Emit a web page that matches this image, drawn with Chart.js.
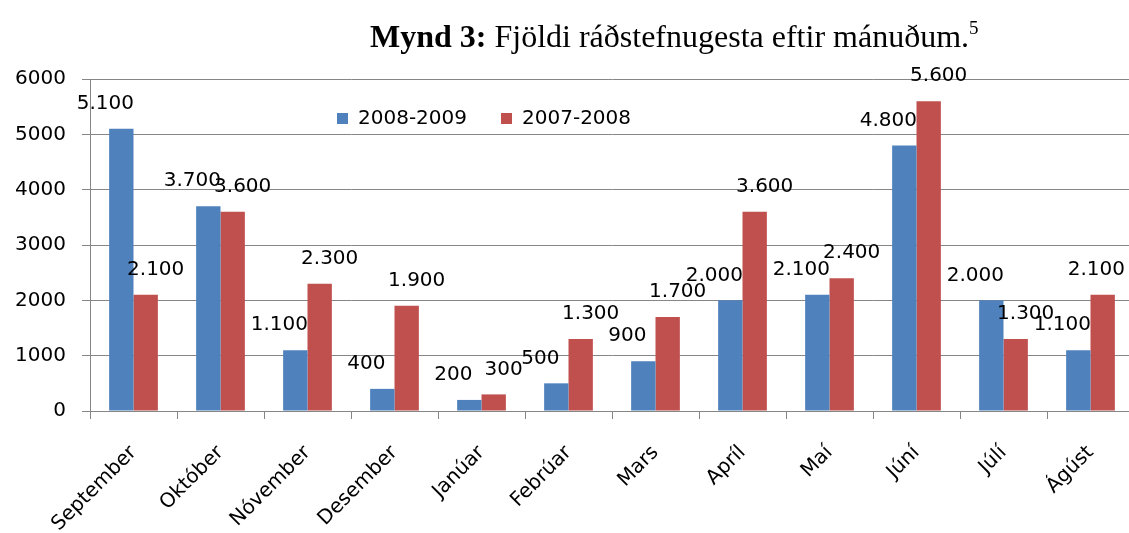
<!DOCTYPE html>
<html>
<head>
<meta charset="utf-8">
<script src="https://cdn.jsdelivr.net/npm/chart.js@4"></script>
<style>
  html, body { margin:0; padding:0; background:#fff; width:1129px; height:533px; overflow:hidden; }
  #wrap { position:absolute; left:0; top:0; width:1129px; height:533px; overflow:hidden; }
  #title { position:absolute; left:370px; top:18px; font-family:"Liberation Serif","Times New Roman",serif; font-size:32px; color:#000; white-space:nowrap; }
  #title sup { font-size:19px; position:relative; top:-1px; vertical-align:top; }
</style>
</head>
<body>
<div id="wrap"><canvas id="c" width="1150" height="533" style="width:1150px;height:533px"></canvas></div>
<div id="title"><b>Mynd 3:</b> Fjöldi ráðstefnugesta eftir mánuðum.<sup>5</sup></div>
<script>
const categories = ["September","Október","Nóvember","Desember","Janúar","Febrúar","Mars","Apríl","Maí","Júní","Júlí","Ágúst"];
const seriesNames = ["2008-2009","2007-2008"];
const series2008_2009 = [5100,3700,1100,400,200,500,900,2000,2100,4800,2000,1100];
const series2007_2008 = [2100,3600,2300,1900,300,1300,1700,3600,2400,5600,1300,2100];
const yTickValues = [0,1000,2000,3000,4000,5000,6000];

const FONT = "'DejaVu Sans', sans-serif";
const VISIBLE_WIDTH = 1129;
const fmt = v => String(v).replace(/\B(?=(\d{3})+(?!\d))/g, ".");

const labelPlugin = {
  id: 'valueLabels',
  afterDatasetsDraw(chart) {
    const ctx = chart.ctx;
    ctx.save();
    ctx.font = "20px " + FONT;
    ctx.fillStyle = "#000";
    ctx.textAlign = "center";
    ctx.textBaseline = "middle";
    chart.data.datasets.forEach((ds, di) => {
      const meta = chart.getDatasetMeta(di);
      const dx = di === 0 ? -16 : 10;
      meta.data.forEach((bar, i) => {
        const txt = fmt(ds.data[i]);
        const w = ctx.measureText(txt).width;
        const x = Math.min(bar.x + dx, VISIBLE_WIDTH - 4 - w / 2);
        ctx.fillText(txt, x, bar.y - 25);
      });
    });
    ctx.restore();
  }
};

const legendPlugin = {
  id: 'customLegend',
  afterDraw(chart) {
    const ctx = chart.ctx;
    ctx.save();
    ctx.font = "20px " + FONT;
    ctx.textBaseline = "middle";
    ctx.textAlign = "left";
    let x = 337;
    const y = 119;
    chart.data.datasets.forEach(ds => {
      ctx.fillStyle = ds.backgroundColor;
      ctx.fillRect(x, y - 6, 11, 11);
      ctx.fillStyle = "#000";
      ctx.fillText(ds.label, x + 21, y);
      x += 21 + ctx.measureText(ds.label).width + 34;
    });
    ctx.restore();
  }
};

new Chart(document.getElementById('c'), {
  type: 'bar',
  data: {
    labels: categories,
    datasets: [
      { label: seriesNames[0], data: series2008_2009, backgroundColor: '#4F81BD', categoryPercentage: 0.56, barPercentage: 1.0 },
      { label: seriesNames[1], data: series2007_2008, backgroundColor: '#C0504D', categoryPercentage: 0.56, barPercentage: 1.0 }
    ]
  },
  options: {
    responsive: false,
    devicePixelRatio: 1,
    animation: false,
    layout: { padding: { left: 0, right: 16, top: 79, bottom: 0 } },
    plugins: { legend: { display: false }, tooltip: { enabled: false }, title: { display: false } },
    scales: {
      x: {
        grid: { display: true, drawOnChartArea: false, drawTicks: true, tickLength: 8, color: '#868686', offset: true },
        border: { display: true, color: '#868686', width: 1 },
        ticks: { color: '#000', font: { family: FONT, size: 20 }, minRotation: 45, maxRotation: 45, padding: 22, autoSkip: false },
        afterFit(s) { s.height = 122; }
      },
      y: {
        min: 0, max: 6000,
        afterBuildTicks(s) { s.ticks = yTickValues.map(v => ({ value: v })); },
        grid: { color: '#868686', tickLength: 8, drawTicks: true },
        border: { display: true, color: '#868686', width: 1 },
        ticks: { color: '#000', font: { family: FONT, size: 20 }, padding: 16, callback: v => String(v) },
        afterFit(s) { s.width = 90; }
      }
    }
  },
  plugins: [labelPlugin, legendPlugin]
});
</script>
</body>
</html>
